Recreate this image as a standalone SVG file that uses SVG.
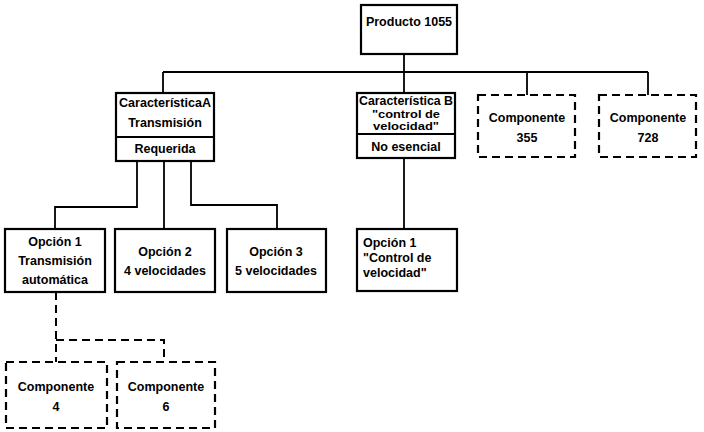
<svg xmlns="http://www.w3.org/2000/svg" width="704" height="432" viewBox="0 0 704 432">
<style>
.box{fill:#fff;stroke:#000;stroke-width:2.2}
.dbox{fill:#fff;stroke:#000;stroke-width:2.2;stroke-dasharray:8 5}
.ln{fill:none;stroke:#000;stroke-width:1.8}
.dln{fill:none;stroke:#000;stroke-width:2;stroke-dasharray:8 5}
text{font-family:"Liberation Sans",Arial,sans-serif;font-weight:bold;font-size:12.5px;fill:#000}
.c{text-anchor:middle}
.s{font-size:11px}
</style>
<rect width="704" height="432" fill="#fff"/>
<g id="connectors">
<path class="ln" d="M404 54V72M163 72H648M163 72V93M404 72V93M527 72V95M648 72V95"/>
<path class="ln" d="M137 161V207H55V229M164 161V229M191 161V205H277V229"/>
<path class="ln" d="M404 158V229"/>
<path class="dln" d="M56 292V362M56 340H164V362"/>
</g>
<g id="producto">
<rect class="box" x="361" y="5" width="96" height="49"/>
<text class="c" x="409" y="26">Producto 1055</text>
</g>
<g id="caracteristicaA">
<rect class="box" x="116" y="93" width="98" height="68"/>
<line class="ln" x1="116" y1="137" x2="214" y2="137"/>
<text class="c" x="165" y="107" textLength="92" lengthAdjust="spacingAndGlyphs">CaracterísticaA</text>
<text class="c" x="165" y="127">Transmisión</text>
<text class="c" x="165" y="153">Requerida</text>
</g>
<g id="caracteristicaB">
<rect class="box" x="357" y="93" width="98" height="65"/>
<line class="ln" x1="357" y1="134" x2="455" y2="134"/>
<text class="c" x="406" y="104.5" style="font-size:12px" textLength="94" lengthAdjust="spacingAndGlyphs">Característica B</text>
<text class="c s" x="406" y="117.5" textLength="68" lengthAdjust="spacingAndGlyphs">"control de</text>
<text class="c s" x="406" y="130" textLength="66" lengthAdjust="spacingAndGlyphs">velocidad"</text>
<text class="c" x="406" y="151">No esencial</text>
</g>
<g id="comp355">
<rect class="dbox" x="478" y="95" width="97" height="62"/>
<text class="c" x="527" y="122">Componente</text>
<text class="c" x="527" y="142">355</text>
</g>
<g id="comp728">
<rect class="dbox" x="599" y="95" width="97" height="62"/>
<text class="c" x="648" y="122">Componente</text>
<text class="c" x="648" y="142">728</text>
</g>
<g id="opcion1A">
<rect class="box" x="5" y="229" width="100" height="63"/>
<text class="c" x="55" y="246">Opción 1</text>
<text class="c" x="55" y="265">Transmisión</text>
<text class="c" x="55" y="284">automática</text>
</g>
<g id="opcion2">
<rect class="box" x="115" y="229" width="100" height="63"/>
<text class="c" x="165" y="256">Opción 2</text>
<text class="c" x="165" y="275">4 velocidades</text>
</g>
<g id="opcion3">
<rect class="box" x="227" y="229" width="99" height="63"/>
<text class="c" x="276" y="256">Opción 3</text>
<text class="c" x="276" y="275">5 velocidades</text>
</g>
<g id="opcion1B">
<rect class="box" x="357" y="229" width="100" height="62"/>
<text x="363" y="247">Opción 1</text>
<text x="363" y="262">"Control de</text>
<text x="363" y="277">velocidad"</text>
</g>
<g id="comp4">
<rect class="dbox" x="6" y="362" width="101" height="66"/>
<text class="c" x="56" y="391">Componente</text>
<text class="c" x="56" y="411">4</text>
</g>
<g id="comp6">
<rect class="dbox" x="117" y="362" width="98" height="66"/>
<text class="c" x="166" y="391">Componente</text>
<text class="c" x="166" y="411">6</text>
</g>
</svg>
